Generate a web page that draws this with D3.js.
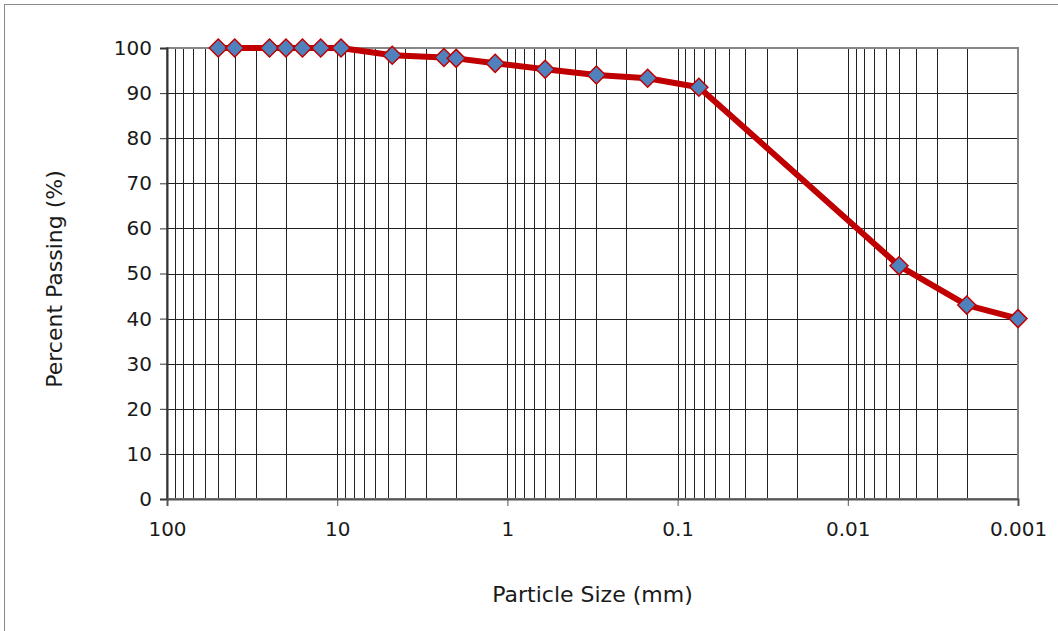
<!DOCTYPE html>
<html>
<head>
<meta charset="utf-8">
<script src="https://cdn.jsdelivr.net/npm/d3@7"></script>
<style>
  body { margin: 0; background: #fff; }
  svg { display: block; font-family: "DejaVu Sans", sans-serif; }
</style>
</head>
<body>
<svg width="1058" height="631"></svg>
<script>
// sieve / hydrometer sizes (mm) and percent passing
var sizes = [50, 40, 25, 20, 16, 12.5, 9.5, 4.75, 2.36, 2, 1.18, 0.6, 0.3, 0.15, 0.075, 0.005, 0.002, 0.001];
var passing = [100, 100, 100, 100, 100, 100, 100, 98.4, 97.9, 97.7, 96.6, 95.3, 94.0, 93.3, 91.3, 51.7, 43.0, 40.0];
var xTickLabels = ["100", "10", "1", "0.1", "0.01", "0.001"];
var yTicks = [0, 10, 20, 30, 40, 50, 60, 70, 80, 90, 100];

// plot area (window.top is reserved, so no plain "top")
var plotLeft = 167, plotRight = 1018, plotTop = 48, plotBottom = 499;

var svg = d3.select("svg");

// outer chart border (runs off the bottom/right edge like the reference)
svg.append("rect")
    .attr("x", 4.5)
    .attr("y", 4.5)
    .attr("width", 1100)
    .attr("height", 700)
    .attr("fill", "white")
    .attr("stroke", "#8a8a8a")
    .attr("stroke-width", 1);

var x = d3.scaleLog().domain([100, 0.001]).range([plotLeft, plotRight]);
var y = d3.scaleLinear().domain([0, 100]).range([plotBottom, plotTop]);

var data = sizes.map((s, i) => ({size: s, pct: passing[i]}));

// vertical grid at every log minor
var minors = [];
for (var e = -3; e < 2; e++) {
    for (var m = 1; m < 10; m++) minors.push(m * Math.pow(10, e));
}
minors.push(100);

svg.append("g")
    .selectAll("line")
    .data(minors)
    .join("line")
    .attr("x1", d => Math.round(x(d)) + 0.5)
    .attr("x2", d => Math.round(x(d)) + 0.5)
    .attr("y1", plotTop)
    .attr("y2", plotBottom)
    .attr("stroke", "#222")
    .attr("stroke-width", 1);

// horizontal grid
svg.append("g")
    .selectAll("line")
    .data(yTicks)
    .join("line")
    .attr("x1", plotLeft)
    .attr("x2", plotRight)
    .attr("y1", d => Math.round(y(d)) + 0.5)
    .attr("y2", d => Math.round(y(d)) + 0.5)
    .attr("stroke", "#222")
    .attr("stroke-width", 1);

// plot border
svg.append("rect")
    .attr("x", plotLeft)
    .attr("y", plotTop)
    .attr("width", plotRight - plotLeft)
    .attr("height", plotBottom - plotTop)
    .attr("fill", "none")
    .attr("stroke", "#868686")
    .attr("stroke-width", 2);

// y axis
var yAxis = d3.axisLeft(y)
    .tickValues(yTicks)
    .tickSize(7)
    .tickPadding(8);

var gy = svg.append("g")
    .attr("transform", "translate(" + plotLeft + ",0)")
    .call(yAxis);
gy.select(".domain").attr("stroke", "#333").attr("stroke-width", 2);
gy.selectAll(".tick line").attr("stroke", "#333");
gy.selectAll("text")
    .attr("font-size", "20px")
    .attr("fill", "#1a1a1a")
    .attr("font-family", "DejaVu Sans, sans-serif");

// x axis
var xAxis = d3.axisBottom(x)
    .tickValues([100, 10, 1, 0.1, 0.01, 0.001])
    .tickFormat((d, i) => xTickLabels[i])
    .tickSize(7)
    .tickPadding(16);

var gx = svg.append("g")
    .attr("transform", "translate(0," + plotBottom + ")")
    .call(xAxis);
gx.select(".domain").attr("stroke", "#555").attr("stroke-width", 2);
gx.selectAll(".tick line").attr("stroke", "#555");
gx.selectAll("text")
    .attr("font-size", "20px")
    .attr("fill", "#1a1a1a")
    .attr("font-family", "DejaVu Sans, sans-serif");

// axis titles
svg.append("text")
    .attr("x", (plotLeft + plotRight) / 2)
    .attr("y", 602)
    .attr("text-anchor", "middle")
    .attr("font-size", "22px")
    .attr("fill", "#1a1a1a")
    .text("Particle Size (mm)");

svg.append("text")
    .attr("transform", "translate(62,279) rotate(-90)")
    .attr("text-anchor", "middle")
    .attr("font-size", "22px")
    .attr("fill", "#1a1a1a")
    .text("Percent Passing (%)");

// gradation curve
var line = d3.line()
    .x(d => x(d.size))
    .y(d => y(d.pct));

svg.append("path")
    .datum(data)
    .attr("d", line)
    .attr("fill", "none")
    .attr("stroke", "#c00000")
    .attr("stroke-width", 6)
    .attr("stroke-linejoin", "round");

// diamond markers
svg.append("g")
    .selectAll("path")
    .data(data)
    .join("path")
    .attr("transform", d => "translate(" + x(d.size) + "," + y(d.pct) + ")")
    .attr("d", "M0,-9L9,0L0,9L-9,0Z")
    .attr("fill", "#4f81bd")
    .attr("stroke", "#c00000")
    .attr("stroke-width", 1.5);
</script>
</body>
</html>
